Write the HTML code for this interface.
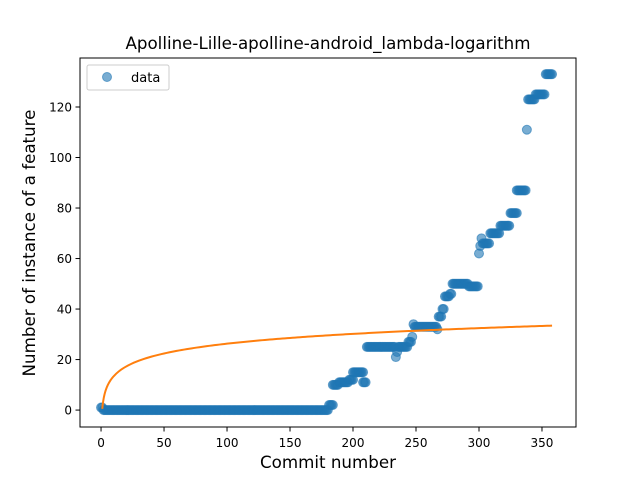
<!DOCTYPE html>
<html><head><meta charset="utf-8"><style>
body{margin:0;background:#fff;}
svg text{font-family:"DejaVu Sans","Liberation Sans",sans-serif;}
</style></head><body>
<svg id="chart" width="640" height="480" xmlns="http://www.w3.org/2000/svg">
<rect width="640" height="480" fill="#fff"/>
<text x="328" y="49" font-size="16.7" text-anchor="middle">Apolline-Lille-apolline-android_lambda-logarithm</text>
<g id="plot"></g>
<text x="328" y="468" font-size="16.7" text-anchor="middle">Commit number</text>
<text transform="translate(35,243) rotate(-90)" font-size="16.7" text-anchor="middle">Number of instance of a feature</text>
<g>
<rect x="87" y="65" width="82" height="25" fill="#fff" stroke="#ccc" rx="2"/>
<circle cx="107" cy="77" r="4.5" fill="#1f77b4" fill-opacity="0.6" stroke="#1f77b4" stroke-opacity="0.6"/>
<text x="131" y="82" font-size="13">data</text>
</g>
</svg>
<script>
// runs: [startCommit, endCommit, value]
const runStarts = [0,2,181,184,189,197,200,208,211,234,235,236,244,247,248,249,267,268,271,273,277,279,292,300,301,302,303,309,317,325,330,338,339,345,353];
const runEnds   = [1,180,184,188,196,200,208,210,233,234,235,243,246,247,248,266,267,270,272,276,278,291,299,300,301,302,308,316,324,330,337,338,344,352,358];
const runValues = [1,0,2,10,11,12,15,11,25,21,23,25,27,29,34,33,32,37,40,45,46,50,49,62,65,68,66,70,73,78,87,111,123,125,133];
const fitA = 0.5, fitB = 5.6;
const xTicks = [0,50,100,150,200,250,300,350];
const yTicks = [0,20,40,60,80,100,120];

const L=80,R=576,T=58,B=427, xMin=-16.7,xMax=377, yMin=-6.7,yMax=139.4;
const sx=v=>L+(v-xMin)/(xMax-xMin)*(R-L);
const sy=v=>B-(v-yMin)/(yMax-yMin)*(B-T);
const NS="http://www.w3.org/2000/svg";
const g=document.getElementById('plot');
function mk(tag,attrs){const e=document.createElementNS(NS,tag);for(const k in attrs)e.setAttribute(k,attrs[k]);g.appendChild(e);return e;}

const pts=mk('g',{});


for(let i=0;i<runStarts.length;i++){
  for(let c=runStarts[i];c<=runEnds[i];c++){
    const p=document.createElementNS(NS,'circle');
    p.setAttribute('cx',sx(c));p.setAttribute('cy',sy(runValues[i]));p.setAttribute('r',4.5);
    p.setAttribute('fill','#1f77b4');p.setAttribute('fill-opacity','0.6');
    p.setAttribute('stroke','#1f77b4');p.setAttribute('stroke-opacity','0.6');
    
    
    pts.appendChild(p);
  }
}
let d='';
const lastX=runEnds[runEnds.length-1];
for(let x=1;x<=lastX;x+=(x<10?0.25:2)){d+=(d?'L':'M')+sx(x).toFixed(2)+','+sy(fitA+fitB*Math.log(x)).toFixed(2);}
const fit=mk('path',{d:d,fill:'none',stroke:'#ff7f0e','stroke-width':2});



const frame=mk('rect',{x:L,y:T,width:R-L,height:B-T,fill:'none',stroke:'#000','stroke-width':1});


xTicks.forEach(v=>{
  mk('line',{x1:sx(v),x2:sx(v),y1:B,y2:B+4.5,stroke:'#000','stroke-width':1});
  const t=mk('text',{x:sx(v),y:B+20,'font-size':12,'text-anchor':'middle'});t.textContent=v;
  
  
});
yTicks.forEach(v=>{
  mk('line',{x1:L-4.5,x2:L,y1:sy(v),y2:sy(v),stroke:'#000','stroke-width':1});
  const t=mk('text',{x:L-8,y:sy(v)+4.5,'font-size':12,'text-anchor':'end'});t.textContent=v;
  
  
});
</script>
</body></html>
